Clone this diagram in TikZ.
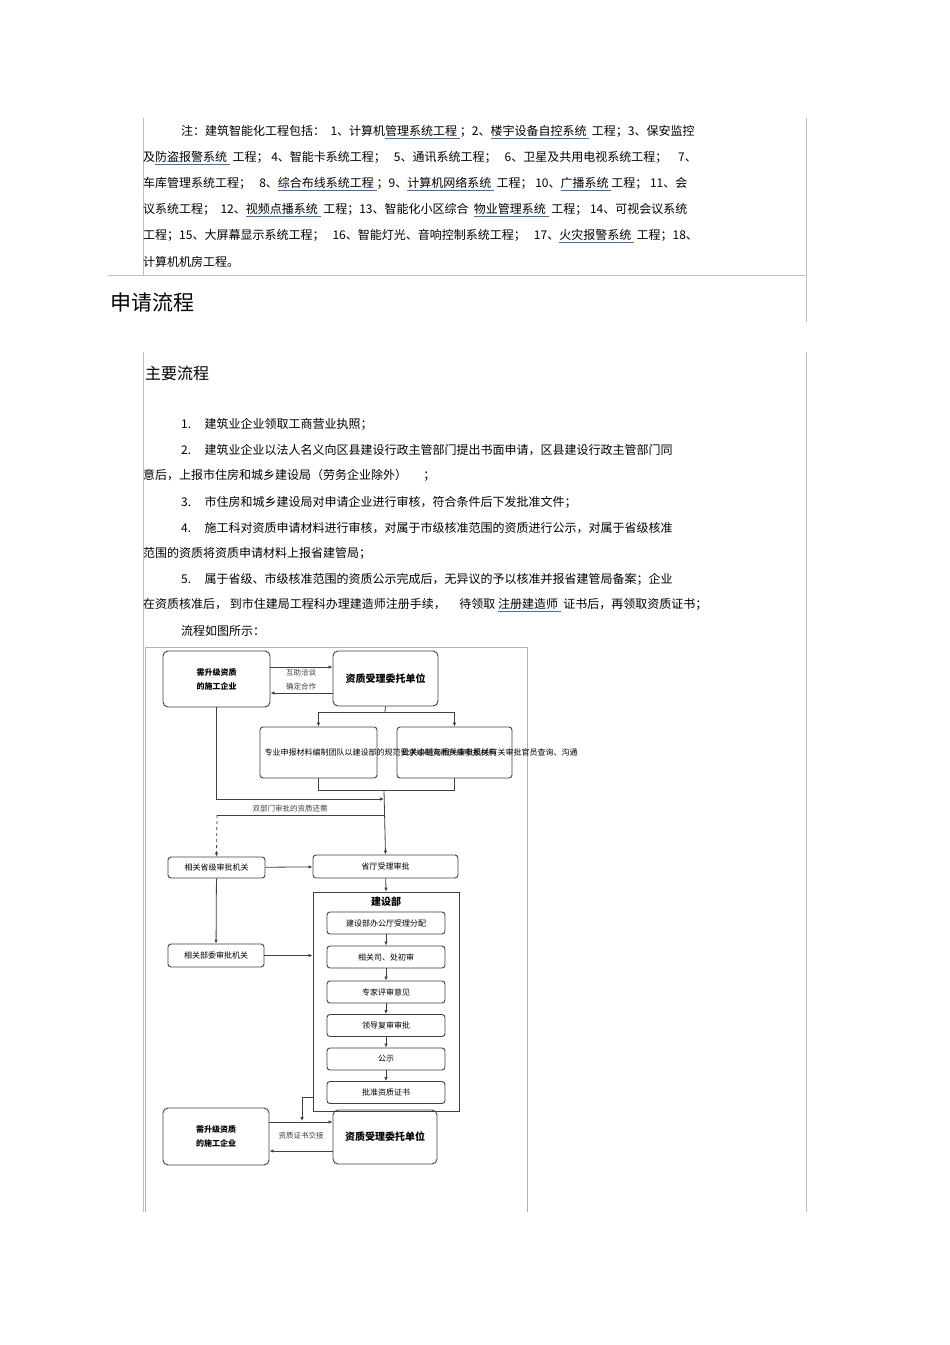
\documentclass[tikz,border=0pt]{standalone}
\usepackage{fontspec}
\setmainfont{Noto Sans CJK SC}
\usetikzlibrary{arrows.meta}
\definecolor{ulc}{RGB}{70,110,170}
\newsavebox\ubox
\newcommand\bu[1]{\sbox\ubox{#1}\rlap{\textcolor{ulc}{\rule[-0.35ex]{\wd\ubox}{0.6pt}}}\usebox\ubox}
\tikzset{
 tl/.style={anchor=west,inner sep=0pt,font=\fontsize{12}{14}\selectfont},
 fb/.style={draw=black!75,rounded corners=5pt,line width=0.9pt,align=center,inner sep=1pt,font=\fontsize{8}{10}\selectfont\bfseries},
 sb/.style={draw=black!75,rounded corners=3pt,line width=0.9pt,align=center,inner sep=1pt,font=\fontsize{8}{10}\selectfont},
 ar/.style={draw=black!75,line width=0.8pt,-{Latex[length=4pt,width=3.5pt]}},
 ln/.style={draw=black!75,line width=0.8pt},
 lab/.style={font=\fontsize{7.5}{9}\selectfont,inner sep=0pt,text=black!75},
 frame/.style={draw=black!25,line width=0.6pt}
}
\begin{document}
\begin{tikzpicture}[x=1pt,y=-1pt]
\useasboundingbox (0,0) rectangle (950,1345);
\fill[white] (0,0) rectangle (950,1345);
% page frame lines
\draw[frame] (143,118) -- (143,275);
\draw[frame] (806,118) -- (806,322);
\draw[frame] (108,275) -- (806,275);
\draw[frame] (143,352) -- (143,1212);
\draw[frame] (806,352) -- (806,1212);
\draw[draw=black!30,line width=0.8pt] (145,1212) -- (145,647) -- (527,647) -- (527,1212);
% note paragraph
\node[tl] (n1) at (181,132) {注：建筑智能化工程包括：\ \ 1、计算机\bu{管理系统工程\ }；2、\bu{楼宇设备自控系统\ }\ 工程；3、保安监控};
\node[tl] (n2) at (143,158) {及\bu{防盗报警系统\ }\ 工程；\ 4、智能卡系统工程；\ \ \ 5、通讯系统工程；\ \ \ 6、卫星及共用电视系统工程；\ \ \ \ 7、};
\node[tl] (n3) at (143,184) {车库管理系统工程；\ \ \ 8、\bu{综合布线系统工程\ }；9、\bu{计算机网络系统\ }\ 工程；\ 10、\bu{广播系统\ }工程；\ 11、会};
\node[tl] (n4) at (143,210) {议系统工程；\ \ 12、\bu{视频点播系统\ }\ 工程；13、智能化小区综合\ \ \bu{物业管理系统\ }\ 工程；\ 14、可视会议系统};
\node[tl] (n5) at (143,236) {工程；15、大屏幕显示系统工程；\ \ \ 16、智能灯光、音响控制系统工程；\ \ \ 17、\bu{火灾报警系统\ }\ 工程；18、};
\node[tl] (n6) at (143,262) {计算机机房工程。};
\node[tl,font=\fontsize{21}{24}\selectfont] (h1) at (110,303) {申请流程};
\node[tl,font=\fontsize{16}{18}\selectfont] (h2) at (145,373) {主要流程};
\node[tl] (l1) at (181,424) {1.\ \ \ \ \ 建筑业企业领取工商营业执照；};
\node[tl] (l2) at (181,450) {2.\ \ \ \ \ 建筑业企业以法人名义向区县建设行政主管部门提出书面申请，区县建设行政主管部门同};
\node[tl] (l2b) at (143,475) {意后，上报市住房和城乡建设局（劳务企业除外）\ \ \ \ \ \ ；};
\node[tl] (l3) at (181,502) {3.\ \ \ \ \ 市住房和城乡建设局对申请企业进行审核，符合条件后下发批准文件；};
\node[tl] (l4) at (181,528) {4.\ \ \ \ \ 施工科对资质申请材料进行审核，对属于市级核准范围的资质进行公示，对属于省级核准};
\node[tl] (l4b) at (143,553) {范围的资质将资质申请材料上报省建管局；};
\node[tl] (l5) at (181,579) {5.\ \ \ \ \ 属于省级、市级核准范围的资质公示完成后，无异议的予以核准并报省建管局备案；企业};
\node[tl] (l5b) at (143,605) {在资质核准后，\ 到市住建局工程科办理建造师注册手续，\ \ \ \ \ 待领取\ \bu{注册建造师\ }\ 证书后，再领取资质证书；};
\node[tl] (l6) at (181,631) {流程如图所示：};
% flowchart
\node[fb,minimum width=107pt,minimum height=56pt] (a1) at (216.5,679) {需升级资质\\[4pt]的施工企业};
\node[fb,minimum width=105pt,minimum height=55pt,font=\fontsize{10}{12}\selectfont\bfseries] (b1) at (385.5,678.5) {资质受理委托单位};
\node[sb,minimum width=117pt,minimum height=51pt,text width=108pt,align=left] (c1) at (318.5,752.5) {专业申报材料编制团队以建设部的规范要求编制资质升级申报材料};
\node[sb,minimum width=115pt,minimum height=51pt,text width=106pt,align=left] (c2) at (454.5,752.5) {公关小组与相关审批机关有关审批官员查询、沟通};
\node[sb,minimum width=97pt,minimum height=21pt] (d1) at (216.5,867.5) {相关省级审批机关};
\node[sb,minimum width=145pt,minimum height=23pt] (e1) at (385.5,866.5) {省厅受理审批};
\node[sb,minimum width=96pt,minimum height=23pt] (d2) at (216,955.5) {相关部委审批机关};
\node[draw=black!75,line width=0.9pt,minimum width=146pt,minimum height=219pt,inner sep=0pt] (big) at (386,1001.5) {};
\node[font=\fontsize{10}{12}\selectfont\bfseries] (bt) at (386,902) {建设部};
\node[sb,minimum width=118pt,minimum height=22pt] (i1) at (386,923) {建设部办公厅受理分配};
\node[sb,minimum width=118pt,minimum height=22pt] (i2) at (386,957) {相关司、处初审};
\node[sb,minimum width=118pt,minimum height=22pt] (i3) at (386,992) {专家评审意见};
\node[sb,minimum width=118pt,minimum height=22pt] (i4) at (386,1025.5) {领导复审审批};
\node[sb,minimum width=118pt,minimum height=22pt] (i5) at (386,1059) {公示};
\node[sb,minimum width=118pt,minimum height=22pt] (i6) at (386,1092.5) {批准资质证书};
\node[fb,minimum width=106pt,minimum height=57pt] (a2) at (216,1136.5) {需升级资质\\[4pt]的施工企业};
\node[fb,minimum width=104pt,minimum height=54pt,font=\fontsize{10}{12}\selectfont\bfseries] (b2) at (385,1137) {资质受理委托单位};
% connectors top
\draw[ar] (a1.east |- 0,667) -- (b1.west |- 0,667);
\draw[ar] (b1.west |- 0,693) -- (a1.east |- 0,693);
\node[lab] (t1) at (301,673) {互助洽谈};
\node[lab] (t2) at (301,687) {确定合作};
\coordinate (s1) at (385,712);
\draw[ln] (b1.south) -- (s1);
\draw[ar] (s1) -| (c1.north);
\draw[ar] (s1) -| (c2.north);
\coordinate (m1) at (384,790);
\draw[ln] (c1.south) |- (m1) -| (c2.south);
\coordinate (m2) at (384,799);
\draw[ar] (a1.south) |- (m2);
\draw[ar] (m1) -- (e1.north);
\coordinate (m3) at (384,815);
\coordinate (m4) at (217,815);
\draw[ln] (m3) -- (m4);
\draw[ar,dashed] (m4) -- (d1.north);
\node[lab] (t3) at (290,809) {双部门审批的资质还需};
\draw[ar] (d1) -- (e1);
\draw[ar] (d1) -- (d2);
\draw[ar] (d2.east) -- (big.west |- d2.east);
\draw[ar] (e1) -- (big.north);
\draw[ar] (i1) -- (i2);
\draw[ar] (i2) -- (i3);
\draw[ar] (i3) -- (i4);
\draw[ar] (i4) -- (i5);
\draw[ar] (i5) -- (i6);
% bottom
\coordinate (k1) at (313,1097);
\coordinate (k2) at (302,1097);
\draw[ar] (k1) -- (k2) -- (302,1121);
\draw[ar] (a2.east |- 0,1122) -- (b2.west |- 0,1122);
\draw[ar] (b2.west |- 0,1151) -- (a2.east |- 0,1151);
\node[lab] (t4) at (301,1136) {资质证书交接};
\end{tikzpicture}
\end{document}
